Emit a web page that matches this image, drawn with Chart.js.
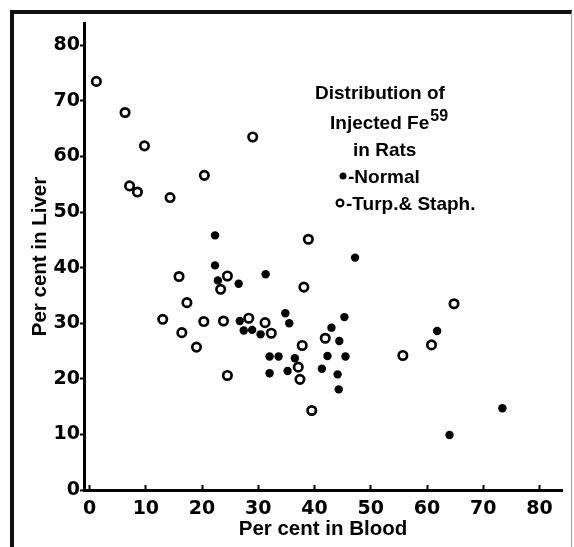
<!DOCTYPE html>
<html>
<head>
<meta charset="utf-8">
<script src="https://cdn.jsdelivr.net/npm/chart.js@4.4.0/dist/chart.umd.min.js"></script>
<style>
  html, body { margin: 0; padding: 0; background: #fff; }
  #wrap { position: relative; width: 574px; height: 547px; overflow: hidden; }
  #frame {
    position: absolute; left: 10px; top: 10px; width: 557px; height: 560px;
    border-left: 4px solid #111; border-top: 4px solid #111; border-right: 1px solid #999;
  }
  canvas { position: absolute; left: 0; top: 0; }
</style>
</head>
<body>
<div id="wrap">
  <div id="frame"></div>
  <canvas id="chart" width="574" height="547"></canvas>
</div>
<script>
// Данные
const normalBlood = [22.3, 22.3, 22.8, 26.5, 31.3, 47.2, 26.7, 27.4, 28.9, 30.4, 34.8, 35.5, 45.3, 43.0,
  44.4, 32.0, 33.6, 36.5, 42.3, 45.5, 35.2, 32.0, 41.3, 44.1, 44.3, 61.8, 73.4, 64.0];
const normalLiver = [45.8, 40.4, 37.7, 37.1, 38.8, 41.8, 30.4, 28.7, 28.8, 28.0, 31.8, 30.0, 31.1, 29.2,
  26.8, 24.0, 24.0, 23.7, 24.1, 24.0, 21.4, 21.0, 21.8, 20.8, 18.1, 28.6, 14.7, 9.9];

const turpBlood = [1.2, 6.3, 9.75, 7.1, 8.5, 14.3, 20.4, 29.0, 38.9, 15.9, 24.5, 23.3, 17.3, 13.0, 20.3,
  23.8, 28.3, 31.2, 32.3, 16.4, 19.0, 24.5, 38.1, 41.9, 37.8, 37.1, 37.4, 39.5, 55.7, 60.8, 64.8];
const turpLiver = [73.5, 67.9, 61.9, 54.7, 53.6, 52.6, 56.6, 63.5, 45.1, 38.4, 38.5, 36.1, 33.7, 30.7, 30.3,
  30.4, 30.9, 30.1, 28.2, 28.3, 25.7, 20.6, 36.5, 27.3, 26.0, 22.1, 19.9, 14.3, 24.2, 26.1, 33.5];

const axisTicks = [0, 10, 20, 30, 40, 50, 60, 70, 80];

const titleLines = ['Distribution of', 'Injected Fe', 'in Rats'];
const legendLabels = ['-Normal', '-Turp.& Staph.'];

const toPoints = (xs, ys) => xs.map((x, i) => ({ x, y: ys[i] }));

// Подпись внутри графика
const notePlugin = {
  id: 'note',
  afterDatasetsDraw(chart) {
    const ctx = chart.ctx;
    ctx.save();
    ctx.fillStyle = '#000';
    ctx.textBaseline = 'middle';
    ctx.textAlign = 'left';
    ctx.font = 'bold 19px "Liberation Sans"';
    ctx.fillText(titleLines[0], 315, 94);
    ctx.fillText(titleLines[1], 330, 124);
    const w = ctx.measureText(titleLines[1]).width;
    ctx.fillText(titleLines[2], 353, 151);
    ctx.fillText(legendLabels[0], 348, 178);
    ctx.fillText(legendLabels[1], 346, 205);
    ctx.font = 'bold 16px "Liberation Sans"';
    ctx.fillText('59', 330 + w + 1, 117);

    // маркеры легенды
    ctx.beginPath();
    ctx.arc(343, 176, 3.5, 0, Math.PI * 2);
    ctx.fill();
    ctx.beginPath();
    ctx.lineWidth = 2.2;
    ctx.strokeStyle = '#000';
    ctx.arc(340, 203, 3.4, 0, Math.PI * 2);
    ctx.stroke();
    ctx.restore();
  }
};

const tickFont = { family: 'DejaVu Sans', weight: 'bold', size: 19 };
const titleFont = { family: 'Liberation Sans', weight: 'bold', size: 20.5 };

new Chart(document.getElementById('chart').getContext('2d'), {
  type: 'scatter',
  data: {
    datasets: [
      {
        label: 'Normal',
        data: toPoints(normalBlood, normalLiver),
        pointStyle: 'circle',
        pointRadius: 4.2,
        backgroundColor: '#000',
        borderColor: '#000',
        borderWidth: 0
      },
      {
        label: 'Turp.& Staph.',
        data: toPoints(turpBlood, turpLiver),
        pointStyle: 'circle',
        pointRadius: 4.2,
        backgroundColor: 'rgba(255,255,255,0)',
        borderColor: '#000',
        borderWidth: 2.7
      }
    ]
  },
  options: {
    responsive: false,
    animation: false,
    devicePixelRatio: 1,
    layout: { padding: { top: 23, right: 12, left: 0, bottom: 0 } },
    plugins: {
      legend: { display: false },
      tooltip: { enabled: false }
    },
    scales: {
      x: {
        type: 'linear',
        position: 'bottom',
        min: -1,
        max: 84,
        afterBuildTicks: s => { s.ticks = axisTicks.map(v => ({ value: v })); },
        afterFit: s => { s.height = 57; },
        border: { color: '#000', width: 3 },
        grid: { drawOnChartArea: false, color: '#000', tickColor: '#000', tickLength: -5, tickWidth: 2 },
        ticks: { color: '#000', font: tickFont, padding: 13, maxRotation: 0, autoSkip: false },
        title: { display: true, text: 'Per cent in Blood', color: '#000', font: titleFont, padding: { top: 0, bottom: 5 } }
      },
      y: {
        type: 'linear',
        position: 'left',
        min: 0,
        max: 84,
        afterBuildTicks: s => { s.ticks = axisTicks.map(v => ({ value: v })); },
        afterFit: s => { s.width = 84; },
        border: { color: '#000', width: 3 },
        grid: { drawOnChartArea: false, color: '#000', tickColor: '#000', tickLength: 4, tickWidth: 2 },
        ticks: { color: '#000', font: tickFont, padding: 0, autoSkip: false },
        title: { display: true, text: 'Per cent in Liver', color: '#000', font: titleFont, padding: { top: 28, bottom: 0 } }
      }
    }
  },
  plugins: [notePlugin]
});
</script>
</body>
</html>
